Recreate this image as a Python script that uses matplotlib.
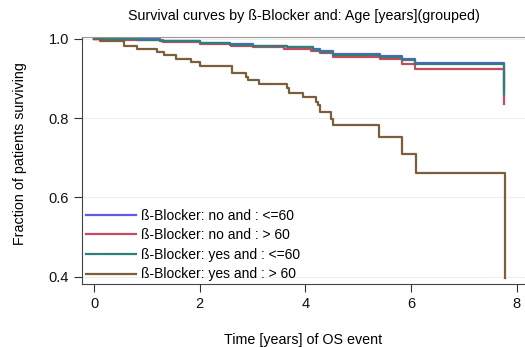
import matplotlib
matplotlib.use('Agg')
import matplotlib.pyplot as plt

plt.rcParams['font.family'] = ['Liberation Sans', 'DejaVu Sans']

# Kaplan-Meier Schätzungen
t_no_le60 = [0, 0.81, 1.25, 2.0, 2.58, 3.01, 3.66, 4.15, 4.28, 4.53, 5.42, 5.83, 6.08, 7.75]
s_no_le60 = [1.0, 0.998, 0.995, 0.990, 0.986, 0.982, 0.979, 0.973, 0.968, 0.960, 0.955, 0.948, 0.938, 0.87]

t_no_gt60 = [0, 0.5, 1.3, 2.0, 2.6, 3.0, 3.6, 4.1, 4.28, 4.53, 5.42, 5.83, 6.08, 7.75]
s_no_gt60 = [1.0, 0.996, 0.992, 0.987, 0.982, 0.978, 0.974, 0.969, 0.963, 0.953, 0.949, 0.937, 0.924, 0.835]

t_yes_le60 = [0, 0.81, 1.25, 2.0, 2.58, 3.01, 3.66, 4.15, 4.28, 4.53, 5.42, 5.83, 6.08, 7.75]
s_yes_le60 = [1.0, 0.997, 0.995, 0.989, 0.985, 0.981, 0.978, 0.972, 0.967, 0.959, 0.954, 0.947, 0.937, 0.858]

t_yes_gt60 = [0, 0.11, 0.57, 0.81, 1.19, 1.33, 1.55, 1.84, 2.01, 2.61, 2.88, 2.92, 3.13,
              3.66, 3.69, 3.96, 4.20, 4.24, 4.28, 4.49, 4.53, 5.40, 5.83, 6.10, 7.77]
s_yes_gt60 = [1.0, 0.993, 0.982, 0.975, 0.967, 0.958, 0.949, 0.942, 0.932, 0.914, 0.904, 0.896, 0.886,
              0.876, 0.863, 0.853, 0.841, 0.833, 0.815, 0.797, 0.782, 0.752, 0.709, 0.661, 0.397]

labels = ['ß-Blocker: no and : <=60', 'ß-Blocker: no and : > 60',
          'ß-Blocker: yes and : <=60', 'ß-Blocker: yes and : > 60']
colors = ['#5b5be6', '#c94a5e', '#2f7f7a', '#7b5e3c']

fig = plt.figure(figsize=(5.25, 3.47), dpi=100)
ax = fig.add_axes([82/525, 63/347, 443/525, 247/347])

series = [(t_no_le60, s_no_le60), (t_no_gt60, s_no_gt60),
          (t_yes_le60, s_yes_le60), (t_yes_gt60, s_yes_gt60)]
for (t, s), lab, c in zip(series, labels, colors):
    ax.step(t, s, where='post', color=c, lw=1.6, label=lab)

ax.set_xlim(-0.23, 8.157)
ax.set_ylim(0.382, 1.004)
ax.set_xticks([0, 2, 4, 6, 8])
ax.set_yticks([0.4, 0.6, 0.8, 1.0])
ax.set_yticklabels(['0.4', '0.6', '0.8', '1.0'])
ax.tick_params(labelsize=10.5, length=6, color='#333333', labelcolor='#111111')
ax.grid(axis='y', color='#eeeeee', lw=0.8)
ax.set_axisbelow(True)

for sp in ['left', 'bottom']:
    ax.spines[sp].set_color('#444444')
ax.spines['top'].set_color('#999999')
ax.spines['right'].set_visible(False)

ax.set_title('Survival curves by ß-Blocker and: Age [years](grouped)', fontsize=10.3, pad=12)
ax.set_xlabel('Time [years] of OS event', fontsize=10.3, labelpad=16)
ax.set_ylabel('Fraction of patients surviving', fontsize=10.3)
ax.yaxis.set_label_coords(-0.124, 0.53)

ax.legend(loc='lower left', bbox_to_anchor=(-0.003, -0.012), frameon=False, fontsize=10,
          handlelength=3.6, labelspacing=0.4, borderaxespad=0.0, handletextpad=0.35)

plt.savefig('out.png', dpi=100)
